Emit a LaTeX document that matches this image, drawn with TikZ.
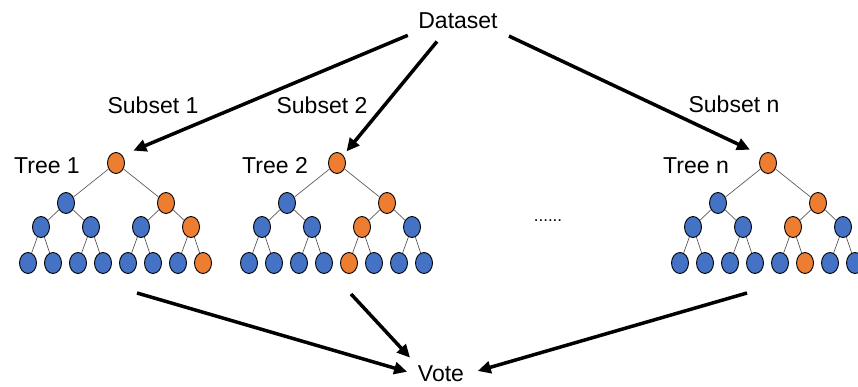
\documentclass[tikz,border=0pt]{standalone}
\usepackage{fontspec}
\setmainfont{Liberation Sans}
\usepackage{tikz}
\usetikzlibrary{arrows.meta,shapes.geometric}
\definecolor{nodeorange}{RGB}{237,125,49}
\definecolor{nodeblue}{RGB}{68,114,196}
\definecolor{edgegray}{RGB}{90,90,90}

\begin{document}
\begin{tikzpicture}[x=1pt,y=-1pt,
  every node/.style={font=\fontsize{23}{27}\selectfont,inner sep=3pt},
  treenode/.style={draw=black,line width=0.9pt,ellipse,fill=nodeblue,
                   minimum width=17pt,minimum height=21pt,inner sep=0pt},
  treeedge/.style={edgegray,line width=0.7pt},
  bigarrow/.style={-{Triangle[length=13pt,width=12pt]},line width=3.5pt}]

  \useasboundingbox (0,0) rectangle (858,387);
  \clip (0,0) rectangle (858,387);

  % ── trees: name / root x / orange inner node / orange leaf ──────
  \foreach \t/\x/\a/\b in {1/116/4/8, 2/337/3/5, n/768/3/6}{
    \node[treenode,fill=nodeorange] (t\t-r) at (\x,163) {};
    \node[treenode] (t\t-m1) at (\x-50,203) {};
    \node[treenode,fill=nodeorange] (t\t-m2) at (\x+50,203) {};
    \draw[treeedge] (t\t-r) -- (t\t-m1) (t\t-r) -- (t\t-m2);
    \foreach \i [evaluate=\i as \p using {int((\i+1)/2)}] in {1,...,4}{
      \ifnum\i=\a \def\c{nodeorange}\else\def\c{nodeblue}\fi
      \node[treenode,fill=\c] (t\t-k\i) at (\x-125+50*\i,227) {};
      \draw[treeedge] (t\t-m\p) -- (t\t-k\i);
    }
    \foreach \j [evaluate=\j as \q using {int((\j+1)/2)}] in {1,...,8}{
      \ifnum\j=\b \def\c{nodeorange}\else\def\c{nodeblue}\fi
      \node[treenode,fill=\c] (t\t-l\j) at (\x-113+25*\j,263) {};
      \draw[treeedge] (t\t-k\q) -- (t\t-l\j);
    }
  }

  % ── labels ──────────────────────────────────────────────────────
  \node (dataset) at (458,21) {Dataset};
  \node (vote) at (441,374) {Vote};
  \node (subset1) at (153,105) {Subset 1};
  \node (subset2) at (322,105) {Subset 2};
  \node (subsetn) at (734,104) {Subset n};
  \node (tree1) at (47,166) {Tree 1};
  \node (tree2) at (275,166) {Tree 2};
  \node (treen) at (696,166) {Tree n};
  \node[font=\fontsize{17}{20}\selectfont] (dots) at (548,221) {......};

  % ── bagging arrows ──────────────────────────────────────────────
  \draw[bigarrow,shorten <=8pt,shorten >=12pt] (dataset.south west) -- (t1-r.north east);
  \draw[bigarrow,shorten <=12pt,shorten >=5pt] (dataset.220) -- (t2-r.north east);
  \draw[bigarrow,shorten <=9pt,shorten >=13pt] (dataset.south east) -- (tn-r.north west);

  % ── voting arrows ───────────────────────────────────────────────
  \coordinate (t1-out) at (137,293);
  \coordinate (t2-out) at (351,294);
  \coordinate (tn-out) at (747,293);
  \draw[bigarrow,shorten >=8pt] (t1-out) -- (vote.west);
  \draw[bigarrow,shorten >=7pt] (t2-out) -- (vote.north west);
  \draw[bigarrow,shorten >=11pt] (tn-out) -- (vote.east);

\end{tikzpicture}
\end{document}
